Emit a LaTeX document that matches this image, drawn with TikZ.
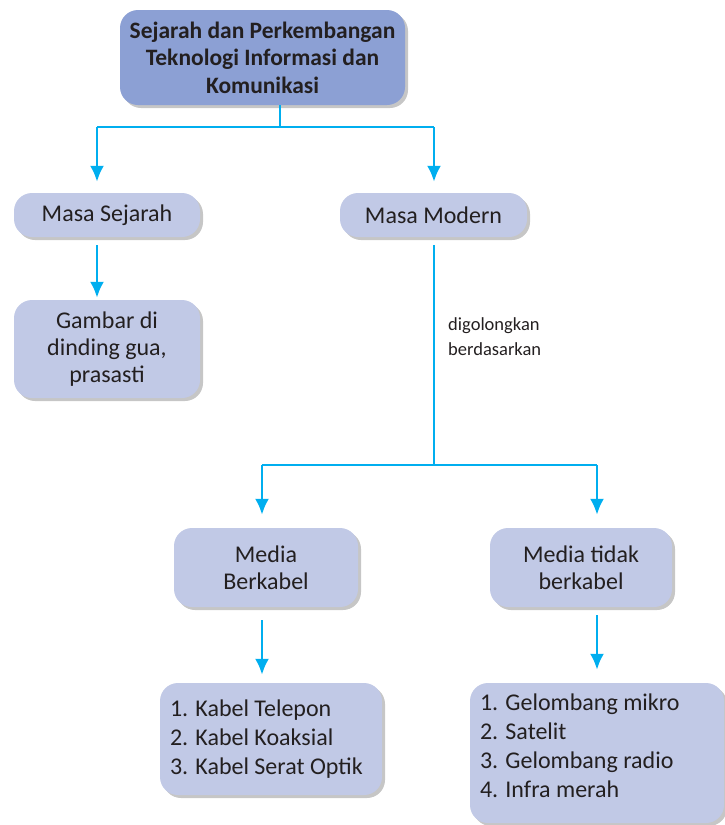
\documentclass[tikz,border=0pt]{standalone}
\usepackage{fontspec}
\setmainfont{Carlito}
\usetikzlibrary{shadows,arrows.meta}
\definecolor{kotakgelap}{RGB}{140,160,212}
\definecolor{kotakmuda}{RGB}{193,201,230}
\definecolor{garisbiru}{RGB}{0,174,239}
\definecolor{teks}{RGB}{35,31,32}
\begin{document}
\begin{tikzpicture}[x=1pt,y=-1pt,
    kotak/.style={fill=kotakmuda,rounded corners=18pt,text=teks,align=center,
      inner sep=0pt,font=\fontsize{24}{27}\selectfont,
      drop shadow={shadow xshift=3pt,shadow yshift=-3pt,opacity=0.45}},
    daftar/.style={kotak,align=flush left,font=\fontsize{24}{29}\selectfont},
    garis/.style={draw=garisbiru,line width=2.6pt},
    panah/.style={garis,-{Latex[length=16pt,width=14pt]}}]
        \useasboundingbox (0,0) rectangle (724,825);
        \node[kotak,fill=kotakgelap,minimum width=285pt,minimum height=95pt,
          font=\bfseries\fontsize{23.5}{27.5}\selectfont] at (262.5,57.5) (judul)
          {Sejarah dan Perkembangan\\Teknologi Informasi dan\\Komunikasi};
        \node[kotak,minimum width=186pt,minimum height=44pt] at (107,215) (sejarah) {Masa Sejarah};
        \node[kotak,minimum width=187pt,minimum height=44pt] at (433.5,215) (modern) {Masa Modern};
        \node[kotak,minimum width=186pt,minimum height=98pt] at (107,349) (gambar)
          {Gambar di\\dinding gua,\\prasasti};
        \node[kotak,minimum width=184pt,minimum height=79pt] at (266,567.5) (kabel) {Media\\Berkabel};
        \node[kotak,minimum width=182pt,minimum height=79pt] at (581,567.5) (nirkabel) {Media tidak\\berkabel};
        \node[daftar,minimum width=222pt,minimum height=112pt,text width=202pt] at (271,739) (daftarkabel)
          {1. Kabel Telepon\\2. Kabel Koaksial\\3. Kabel Serat Optik};
        \node[daftar,minimum width=254pt,minimum height=140pt,text width=234pt] at (597,753) (daftarnirkabel)
          {1. Gelombang mikro\\2. Satelit\\3. Gelombang radio\\4. Infra merah\\[-14pt]\mbox{}};
        % cabang dari judul
        \coordinate (t1) at (280,127);
        \coordinate (t1a) at (97,127);
        \coordinate (t1b) at (434,127);
        \draw[garis] (judul.south -| t1) -- (t1);
        \draw[garis] (t1a) -- (t1b);
        \draw[panah,shorten >=11pt] (t1a) -- (sejarah.north -| t1a);
        \draw[panah,shorten >=11pt] (t1b) -- (modern.north -| t1b);
        \draw[panah,shorten <=8pt,shorten >=2pt] (sejarah.south -| t1a) -- (gambar.north -| t1a);
        % cabang dari masa modern
        \coordinate (t2) at (434,465);
        \coordinate (t2a) at (262,465);
        \coordinate (t2b) at (597,465);
        \draw[garis,shorten <=8pt] (modern.south -| t2) -- (t2);
        \draw[garis] (t2a) -- (t2b);
        \node[anchor=north west,align=left,text=teks,inner sep=0pt,
          font=\fontsize{18.5}{25}\selectfont] at (448,317) (golong) {digolongkan\\berdasarkan};
        \draw[panah,shorten >=13pt] (t2a) -- (kabel.north -| t2a);
        \draw[panah,shorten >=13pt] (t2b) -- (nirkabel.north -| t2b);
        \draw[panah,shorten <=13pt,shorten >=8pt] (kabel.south -| t2a) -- (daftarkabel.north -| t2a);
        \draw[panah,shorten <=8pt,shorten >=13pt] (nirkabel.south -| t2b) -- (daftarnirkabel.north -| t2b);
      \end{tikzpicture}
\end{document}
